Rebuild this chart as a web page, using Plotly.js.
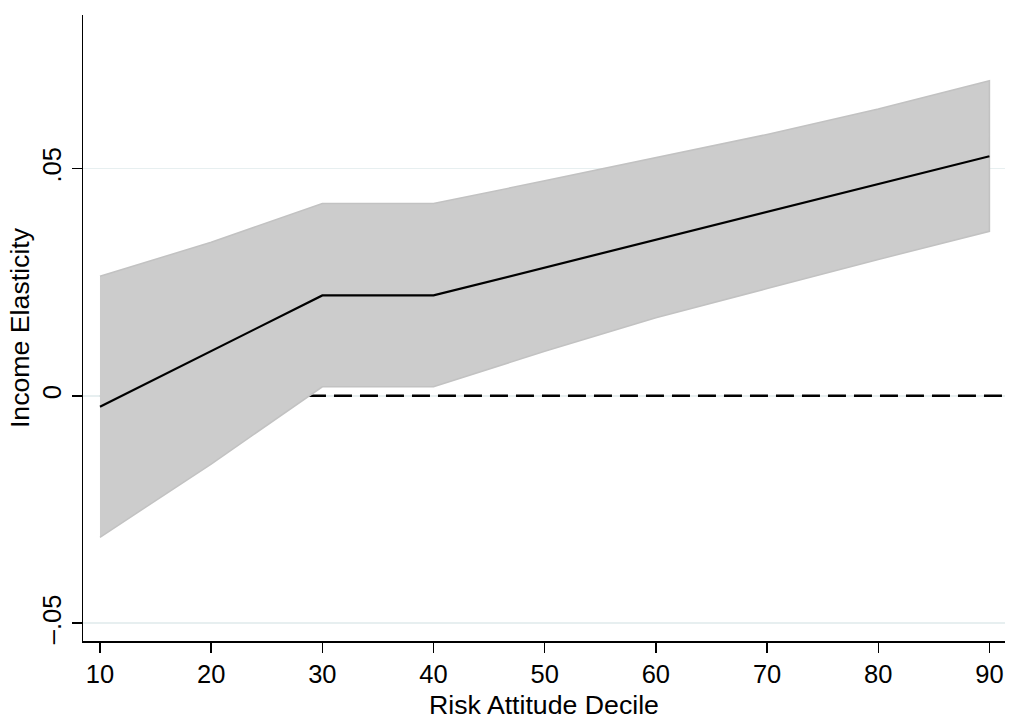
<!DOCTYPE html>
<html>
<head>
<meta charset="utf-8">
<script src="https://cdn.plot.ly/plotly-3.0.1.min.js"></script>
<style>
html,body{margin:0;padding:0;background:#fff;}
#chart{width:1011px;height:720px;}
</style>
</head>
<body>
<div id="chart"></div>
<script>
// Data
const deciles = [10, 20, 30, 40, 50, 60, 70, 80, 90];
const elasticity = [-0.0024, 0.0098, 0.0221, 0.0221, 0.0282, 0.0344, 0.0405, 0.0466, 0.0527];
const upperCI = [0.0263, 0.0338, 0.0423, 0.0423, 0.0473, 0.0524, 0.0575, 0.0631, 0.0693];
const lowerCI = [-0.0311, -0.0150, 0.0020, 0.0020, 0.0098, 0.0172, 0.0236, 0.0300, 0.0362];
const yTickVals = [-0.05, 0, 0.05];
const yTickText = ["\u2013.05", "0", ".05"];
const xTickVals = [10, 20, 30, 40, 50, 60, 70, 80, 90];

const bandX = deciles.concat(deciles.slice().reverse());
const bandY = upperCI.concat(lowerCI.slice().reverse());

const font = "Liberation Sans, Arial, Helvetica, sans-serif";

const traces = [
  {
    x: bandX, y: bandY, type: "scatter", mode: "lines",
    fill: "toself", fillcolor: "#cccccc",
    line: {color: "#c2c2c2", width: 1.5},
    hoverinfo: "skip", showlegend: false
  },
  {
    x: deciles, y: elasticity, type: "scatter", mode: "lines",
    line: {color: "#000000", width: 2.2},
    showlegend: false
  }
];

const layout = {
  width: 1011, height: 720,
  margin: {l: 83, r: 6, t: 15, b: 79},
  paper_bgcolor: "#ffffff", plot_bgcolor: "#ffffff",
  font: {family: font, color: "#000000", size: 24},
  showlegend: false,
  xaxis: {
    range: [8.474, 91.4],
    tickmode: "array", tickvals: xTickVals,
    ticks: "outside", ticklen: 10, tickwidth: 1.5, tickcolor: "#000",
    showline: true, linecolor: "#000", linewidth: 1.5,
    showgrid: false, zeroline: false,
    tickfont: {family: font, size: 25.5},
    title: {text: "Risk Attitude Decile", font: {family: font, size: 26.7}, standoff: 9}
  },
  yaxis: {
    range: [-0.05392, 0.08378],
    tickmode: "array", tickvals: yTickVals, ticktext: yTickText,
    tickangle: -90,
    ticks: "outside", ticklen: 10, tickwidth: 1.5, tickcolor: "#000",
    showline: true, linecolor: "#000", linewidth: 1.5,
    showgrid: true, gridcolor: "#e7eff0", gridwidth: 1.5,
    zeroline: false,
    tickfont: {family: font, size: 25.5},
    title: {text: "Income Elasticity", font: {family: font, size: 26.7}, standoff: 1}
  },
  shapes: [
    {type: "line", xref: "x", yref: "y", x0: 10, x1: 91.4, y0: 0, y1: 0,
     layer: "between", line: {color: "#000000", width: 2.5, dash: "18px,8px"}}
  ]
};

Plotly.newPlot("chart", traces, layout, {displayModeBar: false, staticPlot: true});
</script>
</body>
</html>
